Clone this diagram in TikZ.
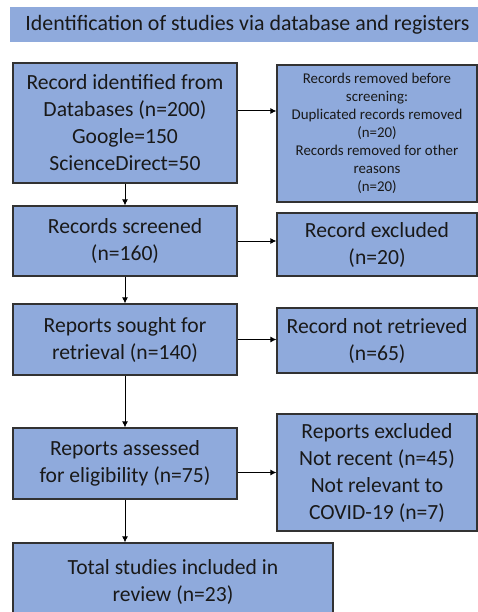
\documentclass[tikz,border=0pt]{standalone}
\usepackage{fontspec}
\setmainfont{Carlito}
\usetikzlibrary{arrows.meta}
\definecolor{boxblue}{RGB}{143,170,220}
\definecolor{boxline}{RGB}{50,50,50}
\definecolor{txt}{RGB}{25,25,25}
\begin{document}
\begin{tikzpicture}[x=1pt,y=-1pt,
    box/.style={draw=boxline,line width=1.2pt,fill=boxblue,align=center,inner sep=0pt,text=txt,font=\fontsize{21.6}{27}\selectfont},
    smallbox/.style={box,font=\fontsize{14.9}{18}\selectfont},
    arr/.style={-{Latex[length=6pt,width=6pt]},line width=1pt,black}]
    \useasboundingbox (0,0) rectangle (478,612);
    \clip (0,0) rectangle (478,612);
    \node[fill=boxblue,minimum width=470pt,minimum height=35pt,inner sep=0pt,text=txt,font=\fontsize{21.9}{26}\selectfont] (title) at (245,24.5) {\hspace*{5pt}Identification of studies via database and registers};
    % left column
    \node[box,minimum width=224pt,minimum height=120pt] (rec) at (125,123) {Record identified from\\Databases (n=200)\\Google=150\\ScienceDirect=50};
    \node[box,minimum width=224pt,minimum height=70pt] (scr) at (125,241) {Records screened\\(n=160)};
    \node[box,minimum width=224pt,minimum height=71pt] (sou) at (125,339.5) {Reports sought for\\retrieval (n=140)};
    \node[box,minimum width=224pt,minimum height=71pt] (ass) at (125,463.5) {Reports assessed\\for eligibility (n=75)};
    \node[box,minimum width=320pt,minimum height=78pt] (tot) at (173,582) {Total studies included in\\review (n=23)};
    % right column
    \node[smallbox,minimum width=200pt,minimum height=137pt] (rem) at (377,133.5) {Records removed before\\screening:\\Duplicated records removed\\(n=20)\\Records removed for other\\reasons\\(n=20)};
    \node[box,minimum width=200pt,minimum height=63pt] (exc) at (377,244.5) {Record excluded\\(n=20)};
    \node[box,minimum width=200pt,minimum height=65pt] (ret) at (377,340.5) {Record not retrieved\\(n=65)};
    \node[box,minimum width=200pt,minimum height=117pt] (rex) at (377,472.5) {Reports excluded\\Not recent (n=45)\\Not relevant to\\COVID-19 (n=7)};
    % arrows
    \draw[arr] ([yshift=12pt]rec.east) -- ([yshift=12pt]rec.east -| rem.west);
    \draw[arr] (scr.east) -- (scr.east -| exc.west);
    \draw[arr] (sou.east) -- (sou.east -| ret.west);
    \draw[arr] (rex.west -| ass.east) -- (rex.west);
    \draw[arr] (rec) -- (scr);
    \draw[arr] (scr) -- (sou);
    \draw[arr] (sou) -- (ass);
    \draw[arr] (ass.south) -- (ass.south |- tot.north);
\end{tikzpicture}
\end{document}
